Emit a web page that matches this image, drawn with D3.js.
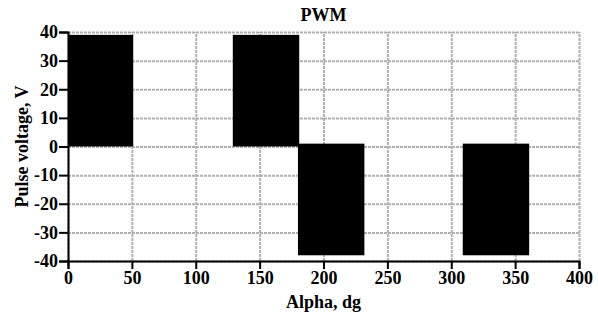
<!DOCTYPE html>
<html>
<head>
<meta charset="utf-8">
<script src="https://cdn.jsdelivr.net/npm/d3@7"></script>
<style>
  body { margin: 0; background: #fff; }
  text { font-family: "Liberation Serif", "Times New Roman", serif; font-weight: bold; }
  .grid line { stroke: #b0b0b0; stroke-width: 2; stroke-dasharray: 3,1; }
  .grid .domain { display: none; }
  .axis path, .axis line { stroke: #000; stroke-width: 2; }
  .axis text { font-size: 18px; }
</style>
</head>
<body>
<svg width="598" height="322"></svg>
<script>
// pulses: start angle, end angle, low level, high level
var pulseStart = [0, 129, 180, 309],
    pulseEnd   = [51, 181, 232, 361],
    pulseLow   = [0, 0, -38, -38],
    pulseHigh  = [39, 39, 1, 1];

var xTicks = [0, 50, 100, 150, 200, 250, 300, 350, 400],
    yTicks = [-40, -30, -20, -10, 0, 10, 20, 30, 40];

var svg = d3.select("svg"),
    margin = {top: 32, right: 19, bottom: 61, left: 68},
    width = svg.attr("width") - margin.left - margin.right,
    height = svg.attr("height") - margin.top - margin.bottom,
    g = svg.append("g").attr("transform", "translate(" + margin.left + "," + margin.top + ")");

var x = d3.scaleLinear().domain([0, 400]).range([0, width]),
    y = d3.scaleLinear().domain([-40, 40]).range([height, 0]);

// plain hyphen for negatives, like the original
var fmt = function(d) { return String(d); };

// gridlines
g.append("g")
    .attr("class", "grid")
    .attr("transform", "translate(0," + height + ")")
    .call(d3.axisBottom(x).tickValues(xTicks).tickSize(-height).tickFormat(""));

g.append("g")
    .attr("class", "grid")
    .call(d3.axisLeft(y).tickValues(yTicks).tickSize(-width).tickFormat(""));

// pulses
var pulses = pulseStart.map(function(s, i) {
    return {x0: s, x1: pulseEnd[i], lo: pulseLow[i], hi: pulseHigh[i]};
});

g.selectAll(".pulse")
    .data(pulses)
    .enter().append("rect")
    .attr("class", "pulse")
    .attr("x", function(d) { return x(d.x0); })
    .attr("width", function(d) { return x(d.x1) - x(d.x0); })
    .attr("y", function(d) { return y(d.hi); })
    .attr("height", function(d) { return y(d.lo) - y(d.hi); })
    .attr("fill", "#000");

// axes
var xAxis = g.append("g")
    .attr("class", "axis")
    .attr("transform", "translate(0," + height + ")")
    .call(d3.axisBottom(x).tickValues(xTicks).tickFormat(fmt).tickSizeOuter(0).tickSize(8).tickPadding(2));
xAxis.selectAll("text").attr("fill", "#000");

var yAxis = g.append("g")
    .attr("class", "axis")
    .call(d3.axisLeft(y).tickValues(yTicks).tickFormat(fmt).tickSizeOuter(0).tickSize(9).tickPadding(1));
yAxis.selectAll("text").attr("fill", "#000");

// title and labels
svg.append("text")
    .attr("x", margin.left + width / 2)
    .attr("y", 21)
    .attr("text-anchor", "middle")
    .style("font-size", "18px")
    .text("PWM");

svg.append("text")
    .attr("x", margin.left + width / 2)
    .attr("y", 308)
    .attr("text-anchor", "middle")
    .style("font-size", "18px")
    .text("Alpha, dg");

svg.append("text")
    .attr("transform", "translate(28," + (margin.top + height / 2) + ") rotate(-90)")
    .attr("text-anchor", "middle")
    .style("font-size", "18px")
    .text("Pulse voltage, V");
</script>
</body>
</html>
